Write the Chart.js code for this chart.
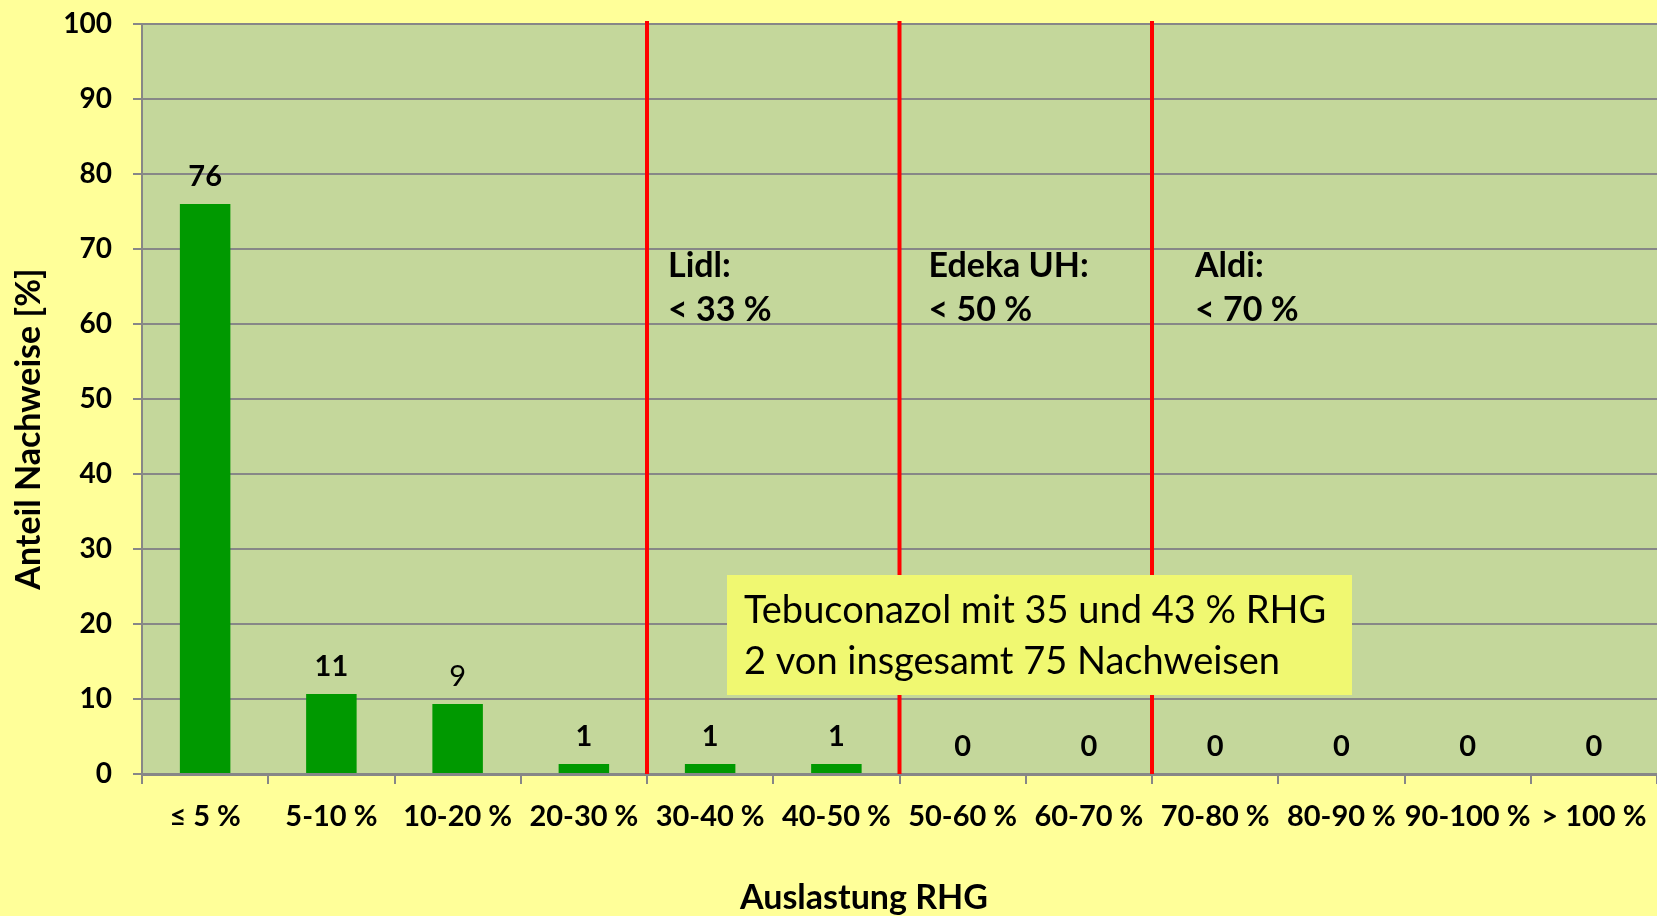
<!DOCTYPE html>
<html>
<head>
<meta charset="utf-8">
<script src="https://cdn.jsdelivr.net/npm/chart.js@4.4.0/dist/chart.umd.min.js"></script>
<style>
  html, body { margin: 0; padding: 0; background: #ffff99; }
</style>
</head>
<body>
<canvas id="chart" width="1657" height="916"></canvas>
<script>
var kategorien = ["≤ 5 %", "5-10 %", "10-20 %", "20-30 %", "30-40 %", "40-50 %",
  "50-60 %", "60-70 %", "70-80 %", "80-90 %", "90-100 %", "> 100 %"];
var anteil = [76, 10.67, 9.33, 1.33, 1.33, 1.33, 0, 0, 0, 0, 0, 0];
var yMin = 0;
var yMax = 100;
var yStep = 10;

// Grenzen der Händler, als Position zwischen den Kategorien
var grenzen = [3.5, 5.5, 7.5];
var grenzenText = [["Lidl:", "< 33 %"], ["Edeka UH:", "< 50 %"], ["Aldi:", "< 70 %"]];
var hinweis = ["Tebuconazol mit 35 und 43 % RHG", "2 von insgesamt 75 Nachweisen"];

var xTitel = "Auslastung RHG";
var yTitel = "Anteil Nachweise [%]";

var schrift = "Lato";

var hintergrund = {
  id: "hintergrund",
  beforeDraw: function (chart) {
    var c = chart.ctx;
    var a = chart.chartArea;
    c.save();
    c.fillStyle = "#ffff99";
    c.fillRect(0, 0, chart.width, chart.height);
    c.fillStyle = "#c4d79b";
    c.fillRect(a.left, a.top, a.right - a.left, a.bottom - a.top);
    c.restore();
  },
};

var extras = {
  id: "extras",
  afterDatasetsDraw: function (chart) {
    var c = chart.ctx;
    var a = chart.chartArea;
    var x = chart.scales.x;
    var meta = chart.getDatasetMeta(0);

    c.save();
    // Werte über den Balken
    c.fillStyle = "#000";
    c.textAlign = "center";
    c.textBaseline = "middle";
    meta.data.forEach(function (bar, i) {
      c.font = (i === 2 ? "normal " : "bold ") + "29px " + schrift;
      c.fillText(Math.round(anteil[i]), bar.x, bar.y - 27);
    });

    // rote Linien
    var textOffsets = [21, 29, 43];
    c.strokeStyle = "#ff0000";
    c.lineWidth = 4;
    grenzen.forEach(function (g, i) {
      var px = x.getPixelForValue(g);
      c.beginPath();
      c.moveTo(px, a.top - 3);
      c.lineTo(px, a.bottom);
      c.stroke();
      c.font = "bold 34px " + schrift;
      c.textAlign = "left";
      c.textBaseline = "alphabetic";
      c.fillText(grenzenText[i][0], px + textOffsets[i], 277);
      c.fillText(grenzenText[i][1], px + textOffsets[i], 321);
    });

    // Hinweisbox
    c.fillStyle = "#f0f871";
    c.fillRect(727, 575, 625, 120);
    c.fillStyle = "#000";
    c.font = "normal 38px " + schrift;
    c.fillText(hinweis[0], 744, 623);
    c.fillText(hinweis[1], 744, 674);

    // Achsentitel
    c.font = "bold 34px " + schrift;
    c.textAlign = "center";
    c.textBaseline = "middle";
    c.fillText(xTitel, 864, 898);
    c.translate(29, 429);
    c.rotate(-Math.PI / 2);
    c.fillText(yTitel, 0, 0);
    c.restore();
  },
};

new Chart(document.getElementById("chart").getContext("2d"), {
  type: "bar",
  data: {
    labels: kategorien,
    datasets: [
      {
        label: "Anteil Nachweise",
        data: anteil,
        backgroundColor: "#009900",
        borderWidth: 0,
        barPercentage: 0.4,
        categoryPercentage: 1,
      },
    ],
  },
  options: {
    responsive: false,
    animation: false,
    layout: {
      padding: { left: 0, top: 24, right: 0, bottom: 0 },
    },
    plugins: {
      legend: { display: false },
      tooltip: { enabled: false },
    },
    scales: {
      x: {
        afterFit: function (scale) {
          scale.height = 142;
          scale.paddingLeft = 0;
          scale.paddingRight = 0;
        },
        grid: {
          display: true,
          drawOnChartArea: false,
          drawTicks: true,
          tickLength: 10,
          color: "#878787",
          lineWidth: 2,
          offset: true,
        },
        border: { display: true, color: "#878787", width: 3 },
        ticks: {
          color: "#000",
          padding: 15,
          maxRotation: 0,
          autoSkip: false,
          font: { family: schrift, size: 29, weight: "bold" },
        },
      },
      y: {
        min: yMin,
        max: yMax,
        afterFit: function (scale) {
          scale.width = 142;
          scale.paddingTop = 0;
          scale.paddingBottom = 0;
        },
        grid: {
          color: "#878787",
          lineWidth: 2,
          tickLength: 9,
        },
        border: { display: true, color: "#878787", width: 2 },
        ticks: {
          stepSize: yStep,
          color: "#000",
          padding: 21,
          font: { family: schrift, size: 28, weight: "bold" },
        },
      },
    },
  },
  plugins: [hintergrund, extras],
});
</script>
</body>
</html>
